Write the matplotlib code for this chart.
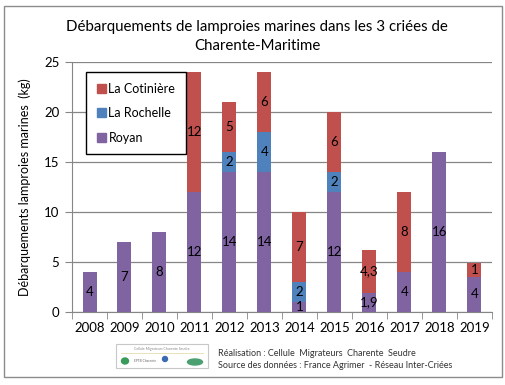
import numpy as np
import matplotlib
matplotlib.use('Agg')
import matplotlib.pyplot as plt
from matplotlib.patches import Rectangle, Patch, Ellipse

plt.rcParams['font.family'] = ['Lato', 'DejaVu Sans']

years = ['2008', '2009', '2010', '2011', '2012', '2013', '2014', '2015', '2016', '2017', '2018', '2019']
royan = [4, 7, 8, 12, 14, 14, 1, 12, 1.9, 4, 16, 3.5]
rochelle = [0, 0, 0, 0, 2, 4, 2, 2, 0, 0, 0, 0]
cotiniere = [0, 0, 0, 12, 5, 6, 7, 6, 4.3, 8, 0, 1.4]
royan_lbl = ['4', '7', '8', '12', '14', '14', '1', '12', '1,9', '4', '16', '4']
rochelle_lbl = ['', '', '', '', '2', '4', '2', '2', '', '', '', '']
cotiniere_lbl = ['', '', '', '12', '5', '6', '7', '6', '4,3', '8', '', '1']

c_roy = '#8064A2'
c_roc = '#4F81BD'
c_cot = '#C0504D'
gris = '#868686'

fig = plt.figure(figsize=(5.06, 3.85), dpi=100)
W, H = 506, 385
ax = fig.add_axes([72 / W, 1 - 312 / H, 420 / W, 250 / H])

x = np.arange(len(years))
royan = np.array(royan)
rochelle = np.array(rochelle)
cotiniere = np.array(cotiniere)
w = 0.4
ax.bar(x, royan, w, color=c_roy, zorder=3)
ax.bar(x, rochelle, w, bottom=royan, color=c_roc, zorder=3)
ax.bar(x, cotiniere, w, bottom=royan + rochelle, color=c_cot, zorder=3)

for i in range(len(years)):
    if royan_lbl[i]:
        ax.text(x[i], royan[i] / 2, royan_lbl[i], ha='center', va='center', fontsize=9.5, zorder=4)
    if rochelle_lbl[i]:
        ax.text(x[i], royan[i] + rochelle[i] / 2, rochelle_lbl[i], ha='center', va='center', fontsize=9.5, zorder=4)
    if cotiniere_lbl[i]:
        ax.text(x[i], royan[i] + rochelle[i] + cotiniere[i] / 2, cotiniere_lbl[i], ha='center', va='center', fontsize=9.5, zorder=4)

ax.set_xlim(-0.5, len(years) - 0.5)
ax.set_ylim(0, 25)
ax.set_yticks([0, 5, 10, 15, 20, 25])
ax.yaxis.grid(True, color=gris, linewidth=0.9)
ax.set_axisbelow(True)
ax.set_xticks(x)
ax.set_xticklabels(years, fontsize=9.5)
ax.set_xticks(np.arange(-0.5, len(years), 1), minor=True)
ax.tick_params(axis='x', which='major', length=0, pad=7)
ax.tick_params(axis='x', which='minor', length=5, color=gris, direction='out')
ax.tick_params(axis='y', length=5, color=gris, labelsize=9.5, pad=4)
for s in ['top', 'right']:
    ax.spines[s].set_visible(False)
for s in ['left', 'bottom']:
    ax.spines[s].set_color(gris)
ax.set_ylabel('Débarquements lamproies marines  (kg)', fontsize=9, labelpad=9)

handles = [Patch(color=c_cot), Patch(color=c_roc), Patch(color=c_roy)]
leg = ax.legend(handles, ['La Cotinière', 'La Rochelle', 'Royan'], loc='upper left',
                bbox_to_anchor=(14 / 420, 240 / 250), fontsize=9, frameon=True, fancybox=False,
                edgecolor='black', framealpha=1, handlelength=0.75, handleheight=0.75,
                handletextpad=0.2, labelspacing=1.0, borderpad=0.85, borderaxespad=0)
leg.get_frame().set_linewidth(1.0)
leg.set_zorder(5)

fig.text(257 / W, 1 - 27 / H, 'Débarquements de lamproies marines dans les 3 criées de',
         ha='center', va='center', fontsize=10.8)
fig.text(257 / W, 1 - 46 / H, 'Charente-Maritime', ha='center', va='center', fontsize=10.8)

# cadre
fig.patches.append(Rectangle((4 / W, 1 - 377 / H), 498 / W, 371 / H, transform=fig.transFigure,
                             fill=False, edgecolor='#8c8c8c', linewidth=1.0))

# logo
fig.patches.append(Rectangle((116 / W, 1 - 368 / H), 92 / W, 24 / H, transform=fig.transFigure,
                             fill=False, edgecolor='#c8c8c8', linewidth=0.8))
fig.text(162 / W, 1 - 349 / H, 'Cellule Migrateurs Charente Seudre', ha='center', va='center',
         fontsize=2.5, color='#888888')
fig.lines.append(plt.Line2D([121 / W, 203 / W], [1 - 353 / H, 1 - 353 / H], transform=fig.transFigure,
                            color='#e0d8a0', linewidth=0.5))
fig.patches.append(Ellipse((125 / W, 1 - 361 / H), 7 / W, 6 / H, transform=fig.transFigure, color='#3a9a5a'))
fig.text(134 / W, 1 - 361 / H, 'EPTB Charente', ha='left', va='center', fontsize=2.3, color='#666666')
fig.patches.append(Ellipse((165 / W, 1 - 359 / H), 5 / W, 5 / H, transform=fig.transFigure, color='#3a6ab0'))
fig.patches.append(Ellipse((195 / W, 1 - 362 / H), 15 / W, 6 / H, transform=fig.transFigure, color='#4aa070'))

fig.text(218 / W, 1 - 354 / H, 'Réalisation : Cellule  Migrateurs  Charente  Seudre', ha='left', va='center',
         fontsize=6.5, color='#333333')
fig.text(218 / W, 1 - 365 / H, 'Source des données : France Agrimer  - Réseau Inter-Criées', ha='left', va='center',
         fontsize=6.5, color='#333333')

fig.savefig('out.png', dpi=100)
